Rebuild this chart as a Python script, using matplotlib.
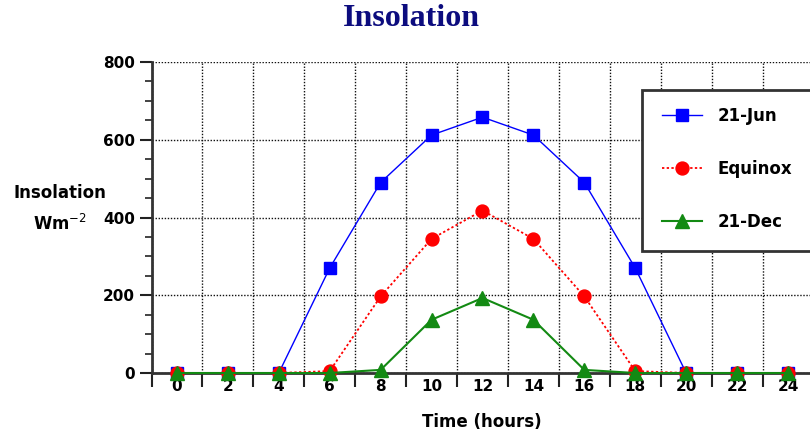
import matplotlib
matplotlib.use("Agg")
import matplotlib.pyplot as plt
from matplotlib.ticker import MultipleLocator, FixedLocator
from matplotlib.patches import Rectangle

hours = [0, 2, 4, 6, 8, 10, 12, 14, 16, 18, 20, 22, 24]
jun = [0, 0, 0, 270, 490, 612, 658, 612, 490, 270, 0, 0, 0]
equinox = [0, 0, 0, 5, 197, 345, 418, 345, 197, 5, 0, 0, 0]
dec = [0, 0, 0, 0, 8, 137, 193, 137, 8, 0, 0, 0, 0]
series_labels = ["21-Jun", "Equinox", "21-Dec"]
x_tick_labels = [str(h) for h in hours]
y_ticks = [0, 200, 400, 600, 800]

W, H = 810, 437
fig = plt.figure(figsize=(W / 100, H / 100), dpi=100)
ax = fig.add_axes([151.5 / W, 64 / H, (W - 151.5) / W, (373 - 62) / H])

l1, = ax.plot(hours, jun, color="#0000ff", lw=1.0, marker="s", ms=8.8,
              mfc="#0000ff", mec="#0000ff", label=series_labels[0], clip_on=False)
l2, = ax.plot(hours, equinox, color="#ff0000", lw=1.3, ls=(0, (1.3, 1.3)), marker="o", ms=9.3,
              mfc="#ff0000", mec="#ff0000", label=series_labels[1], clip_on=False)
l3, = ax.plot(hours, dec, color="#138a13", lw=1.5, marker="^", ms=9.8,
              mfc="#138a13", mec="#138a13", label=series_labels[2], clip_on=False)

ax.set_xlim(-1, -1 + (W - 151.5) / 25.46)
ax.set_ylim(0, 800)

ax.xaxis.set_major_locator(FixedLocator(hours))
ax.set_xticklabels(x_tick_labels)
ax.xaxis.set_minor_locator(FixedLocator(list(range(-1, 26, 2))))
ax.yaxis.set_major_locator(FixedLocator(y_ticks))
ax.yaxis.set_minor_locator(MultipleLocator(50))

ax.tick_params(axis="x", which="major", length=0, pad=4, labelsize=11, colors="black")
ax.tick_params(axis="x", which="minor", length=10, width=1.5, direction="out", color="#222222")
ax.tick_params(axis="y", which="major", length=9, width=1.5, direction="out", pad=3,
               labelsize=11, color="#222222")
ax.tick_params(axis="y", which="minor", length=5, width=1.2, direction="out", color="#222222")
for lab in ax.get_xticklabels() + ax.get_yticklabels():
    lab.set_fontweight("bold")

ax.grid(False)
ax.xaxis.grid(True, which="minor", color="#111111", ls=(0, (1, 1.2)), lw=1.0)
ax.yaxis.grid(True, which="major", color="#111111", ls=(0, (1, 1.2)), lw=1.0)
ax.set_axisbelow(True)

for s in ["top", "right"]:
    ax.spines[s].set_visible(False)
for s in ["left", "bottom"]:
    ax.spines[s].set_color("#333333")
    ax.spines[s].set_linewidth(2)
    ax.spines[s].set_zorder(1.5)

fig.text(411 / W, 1 - 18.5 / H, "Insolation", ha="center", va="center",
         family="Liberation Serif", fontweight="bold", fontsize=23, color="#0c0c7e")
fig.text(482 / W, 1 - 422 / H, "Time (hours)", ha="center", va="center",
         fontweight="bold", fontsize=12)
fig.text(60 / W, 1 - 193 / H, "Insolation", ha="center", va="center",
         fontweight="bold", fontsize=12)
fig.text(60 / W, 1 - 224 / H, r"Wm$^{-2}$", ha="center", va="center",
         fontweight="bold", fontsize=12)

rect = Rectangle((642 / W, 1 - 251 / H), (840 - 642) / W, (251 - 90) / H,
                 transform=fig.transFigure, facecolor="white", edgecolor="#333333",
                 lw=2, zorder=5)
fig.add_artist(rect)
leg = fig.legend(handles=[l1, l2, l3], loc="upper left",
                 bbox_to_anchor=(662 / W, 1 - 107 / H), frameon=False,
                 borderpad=0, borderaxespad=0, handlelength=2.4, handletextpad=0.95,
                 labelspacing=2.1, prop={"weight": "bold", "size": 12}, numpoints=1)
leg.set_zorder(6)

fig.savefig("out.png", dpi=100)
